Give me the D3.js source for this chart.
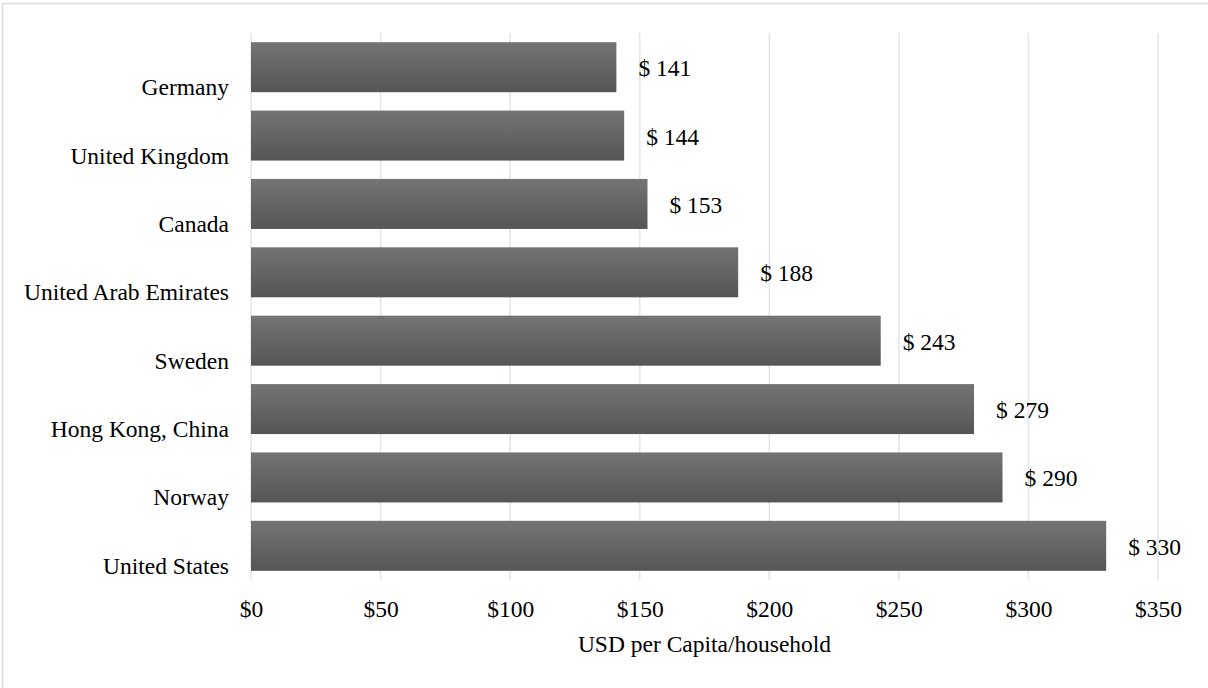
<!DOCTYPE html>
<html>
<head>
<meta charset="utf-8">
<script src="https://cdn.jsdelivr.net/npm/d3@7"></script>
<style>
  html, body { margin: 0; padding: 0; background: #fff; }
  svg { display: block; }
  text { font-family: "Liberation Serif", "Times New Roman", serif; fill: #000; }
</style>
</head>
<body>
<svg id="chart" width="1208" height="688"></svg>
<script>
// Spending per capita/household, top to bottom
const countries = ["Germany", "United Kingdom", "Canada", "United Arab Emirates",
                   "Sweden", "Hong Kong, China", "Norway", "United States"];
const values = [141, 144, 153, 188, 243, 279, 290, 330];
const xTicks = [0, 50, 100, 150, 200, 250, 300, 350];
const axisTitle = "USD per Capita/household";

const svg = d3.select("#chart");
const W = 1208, H = 688;
const plot = { left: 251, right: 1158, top: 33, bottom: 580 };

// Outer frame
svg.append("rect")
  .attr("x", 2.5).attr("y", 3.5)
  .attr("width", W + 20).attr("height", H + 20)
  .attr("fill", "#fff").attr("stroke", "#d9d9d9").attr("stroke-width", 1.5);

const x = d3.scaleLinear().domain([0, 350]).range([plot.left, plot.right]);
const y = d3.scaleBand().domain(countries)
  .range([plot.top, plot.bottom])
  .paddingInner(0.2687).paddingOuter(0.2687 / 2);

// Bar gradient
const defs = svg.append("defs");
const grad = defs.append("linearGradient")
  .attr("id", "barFill").attr("x1", 0).attr("y1", 0).attr("x2", 0).attr("y2", 1);
grad.append("stop").attr("offset", "0%").attr("stop-color", "#747474");
grad.append("stop").attr("offset", "100%").attr("stop-color", "#555555");

// Vertical gridlines
svg.append("g")
  .selectAll("line")
  .data(xTicks)
  .join("line")
  .attr("x1", d => x(d)).attr("x2", d => x(d))
  .attr("y1", plot.top).attr("y2", plot.bottom)
  .attr("stroke", "#e3e6eb").attr("stroke-width", 1.6);

// Bars
const rows = countries.map((c, i) => ({ country: c, value: values[i] }));
svg.append("g")
  .selectAll("rect")
  .data(rows)
  .join("rect")
  .attr("x", x(0))
  .attr("y", d => y(d.country))
  .attr("width", d => x(d.value) - x(0))
  .attr("height", y.bandwidth())
  .attr("fill", "url(#barFill)");

// Value labels
svg.append("g")
  .selectAll("text")
  .data(rows)
  .join("text")
  .attr("x", d => x(d.value) + 22)
  .attr("y", d => y(d.country) + y.bandwidth() / 2 + 9)
  .attr("font-size", 23.5)
  .text(d => "$ " + d.value);

// Category labels (baseline sits near the bottom of each bar)
const yAxis = d3.axisLeft(y).tickSize(0).tickPadding(0);
const gy = svg.append("g").attr("transform", `translate(${229},0)`).call(yAxis);
gy.select(".domain").remove();
gy.selectAll("text")
  .attr("font-size", 23.5)
  .attr("font-family", "Liberation Serif, Times New Roman, serif")
  .attr("fill", "#000")
  .attr("text-anchor", "end")
  .attr("x", 0)
  .attr("dy", null)
  .attr("y", 28);

// X axis tick labels
const xAxis = d3.axisBottom(x).tickValues(xTicks).tickSize(0).tickPadding(0)
  .tickFormat(d => "$" + d);
const gx = svg.append("g").attr("transform", `translate(0,${617})`).call(xAxis);
gx.select(".domain").remove();
gx.selectAll("text")
  .attr("font-size", 23.5)
  .attr("font-family", "Liberation Serif, Times New Roman, serif")
  .attr("fill", "#000")
  .attr("dy", null)
  .attr("y", 0);

// Axis title
svg.append("text")
  .attr("x", (plot.left + plot.right) / 2)
  .attr("y", 652)
  .attr("text-anchor", "middle")
  .attr("font-size", 23.5)
  .text(axisTitle);
</script>
</body>
</html>
